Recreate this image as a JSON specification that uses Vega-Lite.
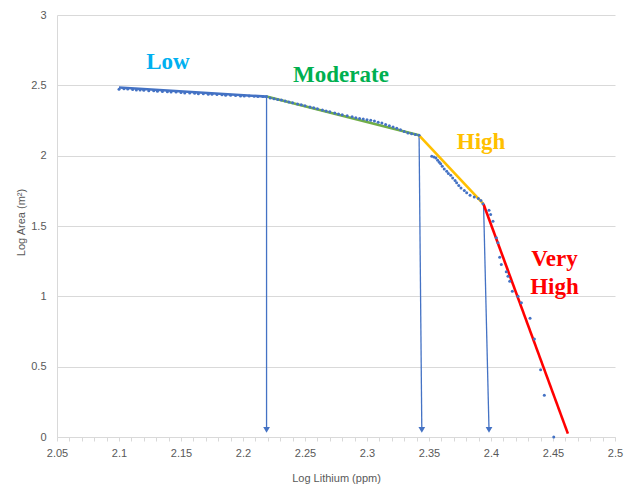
{
  "$schema": "https://vega.github.io/schema/vega-lite/v6.json",
  "width": 558,
  "height": 422,
  "autosize": {"type": "none"},
  "padding": {"left": 57, "top": 15, "right": 19, "bottom": 49},
  "background": "white",
  "config": {
    "view": {"stroke": null},
    "axis": {"labelFont": "Liberation Sans", "titleFont": "Liberation Sans", "labelColor": "#595959", "titleColor": "#595959", "labelFontSize": 11, "titleFontSize": 11, "titleFontWeight": "normal"}
  },
  "datasets": {
    "points": [
      {"x": 2.100, "y": 2.472}, {"x": 2.104, "y": 2.476}, {"x": 2.107, "y": 2.474}, {"x": 2.111, "y": 2.470},
      {"x": 2.114, "y": 2.466}, {"x": 2.117, "y": 2.466}, {"x": 2.120, "y": 2.465}, {"x": 2.124, "y": 2.462},
      {"x": 2.128, "y": 2.461}, {"x": 2.131, "y": 2.458}, {"x": 2.135, "y": 2.456}, {"x": 2.139, "y": 2.455},
      {"x": 2.142, "y": 2.452}, {"x": 2.146, "y": 2.452}, {"x": 2.150, "y": 2.449}, {"x": 2.153, "y": 2.446},
      {"x": 2.157, "y": 2.445}, {"x": 2.161, "y": 2.443}, {"x": 2.164, "y": 2.441}, {"x": 2.168, "y": 2.441},
      {"x": 2.172, "y": 2.437}, {"x": 2.175, "y": 2.436}, {"x": 2.179, "y": 2.434}, {"x": 2.183, "y": 2.433},
      {"x": 2.186, "y": 2.430}, {"x": 2.190, "y": 2.430}, {"x": 2.194, "y": 2.427}, {"x": 2.198, "y": 2.425},
      {"x": 2.201, "y": 2.424}, {"x": 2.205, "y": 2.424}, {"x": 2.209, "y": 2.422}, {"x": 2.212, "y": 2.421},
      {"x": 2.216, "y": 2.420}, {"x": 2.219, "y": 2.420},
      {"x": 2.222, "y": 2.410}, {"x": 2.225, "y": 2.404}, {"x": 2.228, "y": 2.400}, {"x": 2.231, "y": 2.395},
      {"x": 2.234, "y": 2.388}, {"x": 2.237, "y": 2.382}, {"x": 2.240, "y": 2.376}, {"x": 2.244, "y": 2.368},
      {"x": 2.247, "y": 2.362}, {"x": 2.250, "y": 2.355}, {"x": 2.254, "y": 2.346}, {"x": 2.257, "y": 2.340},
      {"x": 2.260, "y": 2.334}, {"x": 2.264, "y": 2.325}, {"x": 2.267, "y": 2.318}, {"x": 2.270, "y": 2.312},
      {"x": 2.274, "y": 2.303}, {"x": 2.277, "y": 2.297}, {"x": 2.280, "y": 2.291}, {"x": 2.284, "y": 2.284},
      {"x": 2.288, "y": 2.276}, {"x": 2.291, "y": 2.270}, {"x": 2.294, "y": 2.264}, {"x": 2.297, "y": 2.260},
      {"x": 2.300, "y": 2.256}, {"x": 2.303, "y": 2.251}, {"x": 2.306, "y": 2.246}, {"x": 2.309, "y": 2.238},
      {"x": 2.312, "y": 2.232}, {"x": 2.315, "y": 2.222}, {"x": 2.318, "y": 2.213}, {"x": 2.321, "y": 2.204},
      {"x": 2.324, "y": 2.195}, {"x": 2.327, "y": 2.184}, {"x": 2.330, "y": 2.172}, {"x": 2.333, "y": 2.162},
      {"x": 2.336, "y": 2.155}, {"x": 2.339, "y": 2.150}, {"x": 2.342, "y": 2.145},
      {"x": 2.3522, "y": 1.996}, {"x": 2.3540, "y": 1.991}, {"x": 2.3556, "y": 1.984}, {"x": 2.3570, "y": 1.967},
      {"x": 2.3583, "y": 1.953}, {"x": 2.3594, "y": 1.942}, {"x": 2.3607, "y": 1.925}, {"x": 2.3623, "y": 1.906},
      {"x": 2.3643, "y": 1.889}, {"x": 2.3656, "y": 1.873}, {"x": 2.3675, "y": 1.861}, {"x": 2.3691, "y": 1.842},
      {"x": 2.3710, "y": 1.823}, {"x": 2.3723, "y": 1.807}, {"x": 2.3740, "y": 1.788}, {"x": 2.3758, "y": 1.771},
      {"x": 2.3785, "y": 1.752}, {"x": 2.3804, "y": 1.736}, {"x": 2.3831, "y": 1.719}, {"x": 2.3865, "y": 1.707},
      {"x": 2.3898, "y": 1.695}, {"x": 2.3919, "y": 1.681},
      {"x": 2.3935, "y": 1.658}, {"x": 2.3984, "y": 1.612}, {"x": 2.3997, "y": 1.582}, {"x": 2.4016, "y": 1.534},
      {"x": 2.4043, "y": 1.416}, {"x": 2.4056, "y": 1.381}, {"x": 2.4070, "y": 1.278}, {"x": 2.4083, "y": 1.227},
      {"x": 2.4123, "y": 1.175}, {"x": 2.4137, "y": 1.143}, {"x": 2.4151, "y": 1.108}, {"x": 2.4172, "y": 1.037},
      {"x": 2.4218, "y": 1.001}, {"x": 2.4245, "y": 0.955}, {"x": 2.4315, "y": 0.845}, {"x": 2.4350, "y": 0.696},
      {"x": 2.4400, "y": 0.478}, {"x": 2.4430, "y": 0.296}, {"x": 2.4506, "y": 0.0}
    ],
    "segments": [
      {"seg": "Low", "x": 2.100, "y": 2.485, "x2": 2.219, "y2": 2.420},
      {"seg": "Moderate", "x": 2.219, "y": 2.420, "x2": 2.342, "y2": 2.145},
      {"seg": "High", "x": 2.342, "y": 2.145, "x2": 2.394, "y2": 1.655},
      {"seg": "Very High", "x": 2.394, "y": 1.655, "x2": 2.462, "y2": 0.024}
    ],
    "arrows": [
      {"x": 2.219, "y": 2.420, "x2": 2.219, "y2": 0.05},
      {"x": 2.342, "y": 2.145, "x2": 2.3442, "y2": 0.05},
      {"x": 2.394, "y": 1.655, "x2": 2.3984, "y2": 0.05}
    ],
    "labels": [
      {"label": "Low", "x": 2.1395, "y": 2.665},
      {"label": "Moderate", "x": 2.279, "y": 2.576},
      {"label": "High", "x": 2.392, "y": 2.095},
      {"label": "Very\nHigh", "x": 2.4512, "y": 1.262}
    ]
  },
  "layer": [
    {
      "data": {"name": "arrows"},
      "mark": {"type": "rule", "color": "#4472C4", "strokeWidth": 1.3},
      "encoding": {
        "x": {"field": "x", "type": "quantitative", "scale": {"domain": [2.05, 2.5], "nice": false, "zero": false},
          "axis": {"title": "Log Lithium (ppm)", "values": [2.05,2.06,2.07,2.08,2.09,2.1,2.11,2.12,2.13,2.14,2.15,2.16,2.17,2.18,2.19,2.2,2.21,2.22,2.23,2.24,2.25,2.26,2.27,2.28,2.29,2.3,2.31,2.32,2.33,2.34,2.35,2.36,2.37,2.38,2.39,2.4,2.41,2.42,2.43,2.44,2.45,2.46,2.47,2.48,2.49,2.5],
            "tickCount": 200,
            "format": ".2~f", "labelExpr": "round(datum.value*100) % 5 === 0 ? datum.label : ''",
            "labelOverlap": false, "labelFlush": false, "grid": false, "tickSize": 4, "tickColor": "#D9D9D9", "domainColor": "#D9D9D9",
            "labelPadding": 6, "titleY": 41, "titleBaseline": "middle"}},
        "y": {"field": "y", "type": "quantitative", "scale": {"domain": [0, 3], "nice": false},
          "axis": {"title": "Log Area (m²)", "values": [0, 0.5, 1, 1.5, 2, 2.5, 3], "format": ".1~f", "grid": true, "gridColor": "#D9D9D9",
            "ticks": false, "tickSize": 0, "domainColor": "#D9D9D9", "labelPadding": 11, "titleX": -36, "titleY": 207, "titleBaseline": "middle", "titleAlign": "center"}},
        "x2": {"field": "x2"},
        "y2": {"field": "y2"}
      }
    },
    {
      "data": {"name": "arrows"},
      "mark": {"type": "point", "shape": "triangle-down", "filled": true, "color": "#4472C4", "size": 45, "opacity": 1},
      "encoding": {
        "x": {"field": "x2", "type": "quantitative"},
        "y": {"field": "y2", "type": "quantitative"}
      }
    },
    {
      "data": {"name": "segments"},
      "mark": {"type": "rule", "strokeWidth": 2.6},
      "encoding": {
        "x": {"field": "x", "type": "quantitative"},
        "y": {"field": "y", "type": "quantitative"},
        "x2": {"field": "x2"},
        "y2": {"field": "y2"},
        "stroke": {"field": "seg", "type": "nominal", "scale": {"domain": ["Low", "Moderate", "High", "Very High"], "range": ["#4472C4", "#70AD47", "#FFC000", "#FF0000"]}, "legend": null}
      }
    },
    {
      "data": {"name": "points"},
      "mark": {"type": "circle", "color": "#4472C4", "size": 9, "opacity": 1},
      "encoding": {
        "x": {"field": "x", "type": "quantitative"},
        "y": {"field": "y", "type": "quantitative"}
      }
    },
    {
      "data": {"name": "labels"},
      "mark": {"type": "text", "font": "Liberation Serif", "fontWeight": "bold", "fontSize": 23, "align": "center", "baseline": "middle", "lineBreak": "\n", "lineHeight": 28},
      "encoding": {
        "x": {"field": "x", "type": "quantitative"},
        "y": {"field": "y", "type": "quantitative"},
        "text": {"field": "label"},
        "fill": {"field": "label", "type": "nominal", "scale": {"domain": ["Low", "Moderate", "High", "Very\nHigh"], "range": ["#00B0F0", "#00B050", "#FFC000", "#FF0000"]}, "legend": null}
      }
    }
  ]
}
